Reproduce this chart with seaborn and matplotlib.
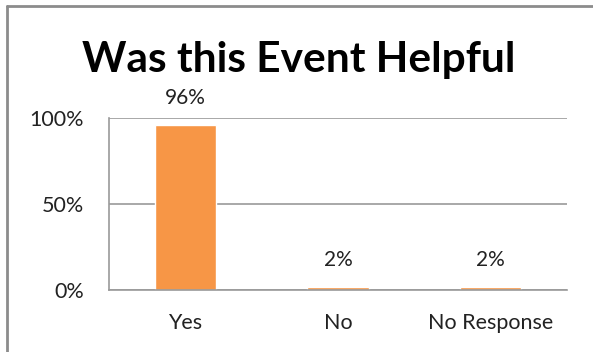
import matplotlib
matplotlib.use("Agg")
import matplotlib.pyplot as plt
from matplotlib.lines import Line2D
import seaborn as sns
import pandas as pd

categories = ["Yes", "No", "No Response"]
percentages = [96, 2, 2]
y_ticks = [0, 50, 100]
y_tick_labels = ["0%", "50%", "100%"]
title = "Was this Event Helpful"

sns.set_style("white")
plt.rcParams["font.family"] = ["Lato", "DejaVu Sans"]

df = pd.DataFrame({"category": categories, "pct": percentages})

fig = plt.figure(figsize=(5.93, 3.52), dpi=100)
ax = fig.add_axes([109 / 593, 62 / 352, 458 / 593, 172 / 352])

sns.barplot(data=df, x="category", y="pct", color="#F79646", width=0.4,
            saturation=1, ax=ax)

ax.set_ylim(0, 100)
ax.set_yticks(y_ticks)
ax.set_yticklabels(y_tick_labels)
ax.set_xlabel("")
ax.set_ylabel("")
ax.tick_params(axis="both", length=0, labelsize=15.5, colors="#222222")
ax.tick_params(axis="y", pad=18)
ax.tick_params(axis="x", pad=16.5)

ax.grid(axis="y", color="#9a9a9a", linewidth=1.2)
ax.set_axisbelow(True)
for side in ["top", "right"]:
    ax.spines[side].set_visible(False)
for side in ["left", "bottom"]:
    ax.spines[side].set_color("#9a9a9a")
    ax.spines[side].set_linewidth(1.2)

for container in ax.containers:
    ax.bar_label(container, labels=[f"{v}%" for v in percentages],
                 padding=12, fontsize=15, color="#222222")

fig.text(0.503, 1 - 60 / 352, title, ha="center", va="center",
         fontsize=30.5, fontweight="bold", color="black")

# chart frame along the top and left edges
fig.add_artist(Line2D([7 / 593, 1], [1 - 5.5 / 352] * 2,
                      transform=fig.transFigure, color="#8c8c8c", linewidth=2))
fig.add_artist(Line2D([7 / 593] * 2, [0, 1 - 5.5 / 352],
                      transform=fig.transFigure, color="#8c8c8c", linewidth=2))

fig.savefig("out.png", dpi=100)
